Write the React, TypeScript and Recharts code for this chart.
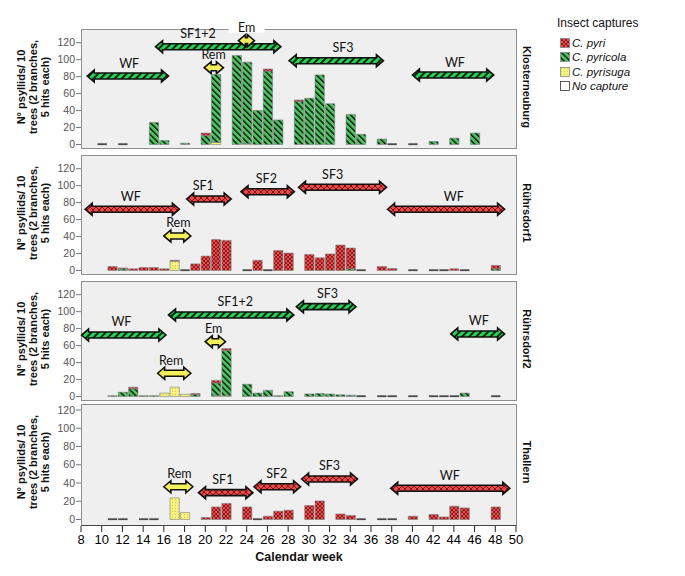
import React from "react";
import { ComposedChart, Bar, XAxis, YAxis, ReferenceArea } from "recharts";

const FONT = '"Liberation Sans", Arial, sans-serif';
const LABEL_FONT = 'Lato, "Liberation Sans", sans-serif';

// ---- data ----
const weekTicks = [8, 10, 12, 14, 16, 18, 20, 22, 24, 26, 28, 30, 32, 34, 36, 38, 40, 42, 44, 46, 48, 50];
const yTicks = [0, 20, 40, 60, 80, 100, 120];
const sites = ["Klosterneuburg", "Rührsdorf1", "Rührsdorf2", "Thallern"];

// Klosterneuburg
const weeksK = [15, 16, 18, 20, 21, 23, 24, 25, 26, 27, 29, 30, 31, 32, 34, 35, 37, 42, 44, 46];
const pyriK = [0, 0, 0, 3, 0, 0, 0, 0, 2.5, 0, 1.5, 0, 0, 0, 0, 0, 0, 0, 0, 0];
const pyricolaK = [26, 4.7, 1.5, 10.5, 80, 105, 96, 40, 86.5, 29, 51, 54.5, 82, 48, 35.5, 12, 6.5, 3.5, 7.5, 13.5];
const pyrisugaK = [0, 0, 0, 0, 2.5, 0, 1, 0, 0, 0, 0, 0, 0, 0, 0, 0, 0, 0, 0, 0];
const noCaptureK = [10, 12, 38, 40];

// Rührsdorf1
const weeksR1 = [11, 12, 13, 14, 15, 16, 17, 19, 20, 21, 22, 25, 27, 28, 30, 31, 32, 33, 34, 37, 38, 44, 48];
const pyriR1 = [4.7, 1, 2, 3.5, 3.5, 2, 1, 7.8, 17, 36.5, 35.5, 12, 23.5, 20.5, 19, 15, 19.5, 30, 24.5, 4.7, 2.4, 2, 4];
const pyricolaR1 = [0, 2, 0, 0, 0, 0, 0, 0, 0, 0, 0, 0, 0, 0, 0, 0, 0, 0, 2, 0, 0, 0, 2];
const pyrisugaR1 = [0, 0, 0, 0, 0, 0, 11, 0, 0, 0, 0, 0, 0, 0, 0, 0, 0, 0, 0, 0, 0, 0, 0];
const noCaptureR1 = [18, 24, 26, 35, 40, 42, 43, 45];

// Rührsdorf2
const weeksR2 = [11, 12, 13, 14, 15, 16, 17, 18, 19, 21, 22, 24, 25, 26, 27, 28, 30, 31, 32, 33, 34, 45];
const pyriR2 = [0, 0, 2, 0, 0, 0, 0, 0, 1, 3, 2, 0, 0, 0, 0, 0, 0, 0, 0, 0, 0, 0];
const pyricolaR2 = [1, 5, 9, 1, 1, 0, 0, 0, 2.5, 15, 53.5, 14.5, 4, 7.3, 1, 5.7, 3, 3.5, 3, 2, 1.5, 4];
const pyrisugaR2 = [0, 0, 0, 0, 0, 4, 11, 2.6, 0, 1, 1, 0, 0, 0, 0, 0, 0, 0, 0, 0, 0, 0];
const noCaptureR2 = [35, 37, 38, 40, 42, 43, 44, 48];

// Thallern
const weeksT = [17, 18, 20, 21, 22, 24, 26, 27, 28, 30, 31, 33, 34, 40, 42, 43, 44, 45, 48];
const pyriT = [0, 0, 2.2, 13.8, 17.5, 13.8, 3.6, 9.1, 10.2, 15.3, 20.4, 6.1, 4.4, 3.6, 5.5, 2.8, 14.6, 12.7, 13.8];
const pyricolaT = [0, 0, 0, 0, 0, 0, 0, 0, 0, 0, 0, 0, 0, 0, 0, 0, 0, 0, 0];
const pyrisugaT = [23.7, 7.7, 0, 0, 0, 0, 0, 0, 0, 0, 0, 0, 0, 0, 0, 0, 0, 0, 0];
const noCaptureT = [11, 12, 14, 15, 25, 35, 37, 38];

type Kind = "pyri" | "pyricola" | "pyrisuga";
type Phase = { label: string; from: number; to: number; kind: Kind };

// phase periods (calendar weeks)
const phasesK: Phase[] = [
  { label: "WF", from: 8.6, to: 16.45, kind: "pyricola" },
  { label: "SF1+2", from: 15.2, to: 27.3, kind: "pyricola" },
  { label: "Rem", from: 19.9, to: 21.75, kind: "pyrisuga" },
  { label: "Em", from: 23.2, to: 24.75, kind: "pyrisuga" },
  { label: "SF3", from: 28.1, to: 37.2, kind: "pyricola" },
  { label: "WF", from: 40, to: 47.85, kind: "pyricola" },
];
const phasesR1: Phase[] = [
  { label: "WF", from: 8.4, to: 17.5, kind: "pyri" },
  { label: "SF1", from: 18.2, to: 22.5, kind: "pyri" },
  { label: "SF2", from: 23.45, to: 28.6, kind: "pyri" },
  { label: "SF3", from: 29, to: 37.5, kind: "pyri" },
  { label: "WF", from: 37.6, to: 48.9, kind: "pyri" },
  { label: "Rem", from: 16, to: 18.6, kind: "pyrisuga" },
];
const phasesR2: Phase[] = [
  { label: "WF", from: 8.05, to: 16.2, kind: "pyricola" },
  { label: "SF1+2", from: 16.45, to: 28.55, kind: "pyricola" },
  { label: "SF3", from: 28.8, to: 34.55, kind: "pyricola" },
  { label: "WF", from: 43.7, to: 48.9, kind: "pyricola" },
  { label: "Em", from: 20, to: 21.95, kind: "pyrisuga" },
  { label: "Rem", from: 15.4, to: 18.6, kind: "pyrisuga" },
];
const phasesT: Phase[] = [
  { label: "Rem", from: 16, to: 18.8, kind: "pyrisuga" },
  { label: "SF1", from: 19.35, to: 24.6, kind: "pyri" },
  { label: "SF2", from: 24.7, to: 29.2, kind: "pyri" },
  { label: "SF3", from: 29.3, to: 34.7, kind: "pyri" },
  { label: "WF", from: 37.9, to: 49.4, kind: "pyri" },
];

// where the arrows sit (y level) and where their labels are centred (week)
const levelsK = [80.7, 115.3, 90.5, 122.4, 98.8, 81.9];
const labelAtK = [12.65, 19.3, 20.8, 24, 33.3, 44.1];
const levelsR1 = [72.2, 84.3, 92.9, 98.1, 72.2, 40.7];
const labelAtR1 = [12.8, 19.8, 25.9, 32.3, 44, 17.4];
const levelsR2 = [72.5, 96.1, 105.9, 73.7, 64.6, 27.4];
const labelAtR2 = [11.9, 22.9, 31.8, 46.4, 20.8, 16.7];
const levelsT = [35.9, 29.4, 35.9, 44.4, 34.2];
const labelAtT = [17.5, 21.7, 26.9, 32, 43.6];

function buildRows(weeks: number[], pyri: number[], pyricola: number[], pyrisuga: number[], none: number[]) {
  const rows = weeks.map((w, i) => ({ week: w, pyri: pyri[i], pyricola: pyricola[i], pyrisuga: pyrisuga[i], none: 0, noCapture: false }));
  none.forEach((w) => rows.push({ week: w, pyri: 0, pyricola: 0, pyrisuga: 0, none: 0, noCapture: true }));
  return rows.sort((a, b) => a.week - b.week);
}

// ---- layout ----
const PLOT_LEFT = 81;
const PLOT_RIGHT = 516;
const Y_W = 30;
const PAD = 14;

const panels = [
  { top: 29, height: 120, zero: 115.5, tick120: 13.7, rows: buildRows(weeksK, pyriK, pyricolaK, pyrisugaK, noCaptureK), phases: phasesK, levels: levelsK, labelAt: labelAtK },
  { top: 155, height: 120, zero: 115.5, tick120: 13.7, rows: buildRows(weeksR1, pyriR1, pyricolaR1, pyrisugaR1, noCaptureR1), phases: phasesR1, levels: levelsR1, labelAt: labelAtR1 },
  { top: 281, height: 120, zero: 115.5, tick120: 13.7, rows: buildRows(weeksR2, pyriR2, pyricolaR2, pyrisugaR2, noCaptureR2), phases: phasesR2, levels: levelsR2, labelAt: labelAtR2 },
  { top: 404, height: 122, zero: 115.5, tick120: 6, rows: buildRows(weeksT, pyriT, pyricolaT, pyrisugaT, noCaptureT), phases: phasesT, levels: levelsT, labelAt: labelAtT },
];

const BAR_FILL: Record<Kind, string> = {
  pyri: "url(#pat-pyri)",
  pyricola: "url(#pat-pyricola)",
  pyrisuga: "url(#pat-pyrisuga)",
};
const ARROW_FILL: Record<Kind, string> = {
  pyri: "url(#pat-pyri-arrow)",
  pyricola: "url(#pat-pyricola-arrow)",
  pyrisuga: "#f4ef5a",
};

function PatternDefs() {
  return (
    <svg width={0} height={0} style={{ position: "absolute" }}>
      <defs>
        <pattern id="pat-pyri" width={4} height={4} patternUnits="userSpaceOnUse">
          <rect width={4} height={4} fill="#ec4b4b" />
          <path d="M0,0L4,4M4,0L0,4" stroke="#5c0f0f" strokeWidth={0.7} />
        </pattern>
        <pattern id="pat-pyricola" width={4.2} height={4.2} patternUnits="userSpaceOnUse" patternTransform="rotate(-45)">
          <rect width={4.2} height={4.2} fill="#4cc45e" />
          <rect width={1.4} height={4.2} fill="#111" />
        </pattern>
        <pattern id="pat-pyrisuga" width={3} height={3} patternUnits="userSpaceOnUse">
          <rect width={3} height={3} fill="#f6f27c" />
          <rect x={1} y={1} width={0.8} height={0.8} fill="#b9b05a" />
        </pattern>
        <pattern id="pat-pyri-arrow" width={6} height={6} patternUnits="userSpaceOnUse">
          <rect width={6} height={6} fill="#ee4848" />
          <path d="M0,0L6,6M6,0L0,6" stroke="#4a0c0c" strokeWidth={0.8} />
        </pattern>
        <pattern id="pat-pyricola-arrow" width={5} height={5} patternUnits="userSpaceOnUse" patternTransform="rotate(45)">
          <rect width={5} height={5} fill="#2fcf56" />
          <rect width={2} height={5} fill="#0d2a12" />
        </pattern>
      </defs>
    </svg>
  );
}

function NoCaptureShape(p: any) {
  if (!p.payload || !p.payload.noCapture) return <g />;
  const base = p.y + (p.height || 0);
  return <rect x={p.x} y={base - 1.2} width={p.width} height={1.8} fill="#4a4a4a" />;
}

function makeArrow(ph: Phase, labelWeek: number, boxed: boolean) {
  return (p: any) => {
    const { x, y, width, height } = p;
    const cy = y + height / 2;
    const x0 = x;
    const x1 = x + width;
    const L = 7;
    const H = 6;
    const S = 3;
    const pts = [
      [x0, cy], [x0 + L, cy - H], [x0 + L, cy - S], [x1 - L, cy - S], [x1 - L, cy - H],
      [x1, cy], [x1 - L, cy + H], [x1 - L, cy + S], [x0 + L, cy + S], [x0 + L, cy + H],
    ].map((q) => q.join(",")).join(" ");
    const lx = x + ((labelWeek - ph.from) / (ph.to - ph.from)) * width;
    return (
      <g>
        <polygon points={pts} fill={ARROW_FILL[ph.kind]} stroke="#111" strokeWidth={1.6} strokeLinejoin="miter" />
        {boxed && <rect x={lx - 18} y={cy - 21} width={36} height={13} fill="#fff" />}
        <text x={lx} y={cy - 8.5} textAnchor="middle" fontSize={12.5} fontFamily={LABEL_FONT} fill="#111">
          {ph.label}
        </text>
      </g>
    );
  };
}

function Panel({ p, index, last }: { p: (typeof panels)[number]; index: number; last: boolean }) {
  const scale = (p.zero - p.tick120) / 120;
  const domain = [-(p.height - p.zero) / scale, 120 + p.tick120 / scale];
  const axisH = last ? 30 : 0;
  const mid = p.top + 58;
  return (
    <>
      <div
        style={{
          position: "absolute",
          left: PLOT_LEFT,
          top: p.top,
          width: PLOT_RIGHT - PLOT_LEFT + 1,
          height: p.height,
          background: "#efefef",
          border: "1px solid #8e8e8e",
          borderBottom: last ? "1px solid #444" : "1px solid #8e8e8e",
          boxSizing: "border-box",
        }}
      />
      <div style={{ position: "absolute", left: 0, top: p.top - PAD }}>
        <ComposedChart
          width={685}
          height={PAD + p.height + axisH}
          data={p.rows}
          margin={{ top: PAD, right: 685 - PLOT_RIGHT, bottom: 0, left: PLOT_LEFT - Y_W }}
          barGap={0}
        >
          <XAxis
            dataKey="week"
            type="number"
            domain={[8, 50]}
            ticks={weekTicks}
            interval={0}
            hide={!last}
            height={30}
            axisLine={false}
            tickLine={{ stroke: "#222" }}
            tickSize={6}
            tickMargin={3}
            tick={{ fill: "#000", fontSize: 13, fontFamily: FONT }}
          />
          <YAxis
            type="number"
            domain={domain}
            allowDataOverflow
            ticks={yTicks}
            interval={0}
            width={Y_W}
            axisLine={false}
            tickLine={{ stroke: "#777" }}
            tickSize={5}
            tickMargin={1}
            tick={{ fill: "#555", fontSize: 10.5, fontFamily: FONT }}
          />
          <Bar dataKey="pyrisuga" stackId="s" fill={BAR_FILL.pyrisuga} stroke="#808080" strokeWidth={0.6} barSize={10.36} isAnimationActive={false} />
          <Bar dataKey="pyricola" stackId="s" fill={BAR_FILL.pyricola} stroke="#808080" strokeWidth={0.6} barSize={10.36} isAnimationActive={false} />
          <Bar dataKey="pyri" stackId="s" fill={BAR_FILL.pyri} stroke="#808080" strokeWidth={0.6} barSize={10.36} isAnimationActive={false} />
          <Bar dataKey="none" stackId="s" shape={NoCaptureShape} barSize={10.36} isAnimationActive={false} />
          {p.phases.map((ph, i) => (
            <ReferenceArea
              key={i}
              x1={ph.from}
              x2={ph.to}
              y1={p.levels[i] - 0.5}
              y2={p.levels[i] + 0.5}
              ifOverflow="visible"
              shape={makeArrow(ph, p.labelAt[i], index === 0 && ph.label === "Em")}
            />
          ))}
        </ComposedChart>
      </div>
      <div
        style={{
          position: "absolute",
          left: 33 - 70,
          top: mid - 18,
          width: 140,
          height: 36,
          transform: "rotate(-90deg)",
          textAlign: "center",
          fontWeight: "bold",
          fontSize: 11,
          lineHeight: "12px",
          color: "#111",
        }}
      >
        N° psyllids/ 10
        <br />
        trees (2 branches,
        <br />5 hits each)
      </div>
      <div
        style={{
          position: "absolute",
          left: 527 - 60,
          top: mid - 8,
          width: 120,
          height: 16,
          transform: "rotate(90deg)",
          textAlign: "center",
          fontWeight: "bold",
          fontSize: 11,
          lineHeight: "16px",
          color: "#111",
        }}
      >
        {sites[index]}
      </div>
    </>
  );
}

const legendItems = [
  { label: "C. pyri", fill: BAR_FILL.pyri },
  { label: "C. pyricola", fill: BAR_FILL.pyricola },
  { label: "C. pyrisuga", fill: BAR_FILL.pyrisuga },
  { label: "No capture", fill: "#fff" },
];

function Legend() {
  return (
    <>
      <div style={{ position: "absolute", left: 557, top: 16, fontSize: 12, lineHeight: "14px", color: "#111" }}>Insect captures</div>
      {legendItems.map((it, i) => (
        <div key={i} style={{ position: "absolute", left: 560, top: 35.5 + i * 14.5, height: 14, display: "flex", alignItems: "center" }}>
          <svg width={10} height={10} style={{ display: "block" }}>
            <rect x={0.5} y={0.5} width={9} height={9} fill={it.fill} stroke={i === 3 ? "#333" : "#888"} strokeWidth={0.8} />
          </svg>
          <span style={{ marginLeft: 2, fontSize: 11.5, fontStyle: "italic", lineHeight: "14px", color: "#111" }}>{it.label}</span>
        </div>
      ))}
    </>
  );
}

export default function App() {
  return (
    <div style={{ position: "absolute", left: 0, top: 0, width: 685, height: 576, background: "#fff", fontFamily: FONT }}>
      <PatternDefs />
      {panels.map((p, i) => (
        <Panel key={i} p={p} index={i} last={i === panels.length - 1} />
      ))}
      <Legend />
      <div style={{ position: "absolute", left: 239, top: 550, width: 120, textAlign: "center", fontWeight: "bold", fontSize: 12.5, color: "#111" }}>
        Calendar week
      </div>
    </div>
  );
}
